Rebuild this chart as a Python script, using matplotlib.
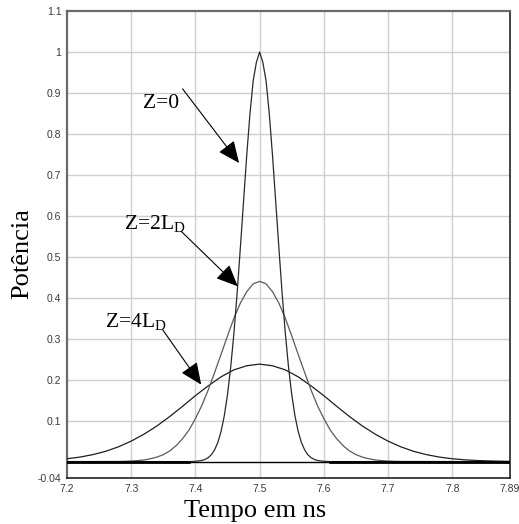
import matplotlib
matplotlib.use("Agg")
import matplotlib.pyplot as plt

# ---------------- data ----------------
t0 = [7.20, 7.39, 7.40, 7.41, 7.415, 7.42, 7.425, 7.43, 7.435, 7.44, 7.445, 7.45,
      7.455, 7.46, 7.465, 7.47, 7.475, 7.48, 7.485, 7.49, 7.495, 7.50, 7.505, 7.51,
      7.515, 7.52, 7.525, 7.53, 7.535, 7.54, 7.545, 7.55, 7.555, 7.56, 7.565, 7.57,
      7.575, 7.58, 7.585, 7.59, 7.60, 7.61, 7.89]
p0 = [0, 0, 0.0007, 0.0029, 0.0054, 0.0098, 0.017, 0.029, 0.047, 0.074, 0.112, 0.164,
      0.231, 0.314, 0.412, 0.522, 0.636, 0.749, 0.850, 0.930, 0.975, 1.0, 0.975, 0.930,
      0.850, 0.749, 0.636, 0.522, 0.412, 0.314, 0.231, 0.164, 0.112, 0.074, 0.047, 0.029,
      0.017, 0.0098, 0.0054, 0.0029, 0.0007, 0, 0]

t2 = [7.20, 7.28, 7.29, 7.30, 7.31, 7.32, 7.33, 7.34, 7.35, 7.36, 7.37, 7.38, 7.39,
      7.40, 7.41, 7.42, 7.43, 7.44, 7.45, 7.46, 7.47, 7.48, 7.49, 7.50, 7.51, 7.52,
      7.53, 7.54, 7.55, 7.56, 7.57, 7.58, 7.59, 7.60, 7.61, 7.62, 7.63, 7.64, 7.65,
      7.66, 7.67, 7.68, 7.69, 7.70, 7.71, 7.72, 7.89]
p2 = [0, 0.0003, 0.0007, 0.0014, 0.0025, 0.004, 0.007, 0.011, 0.017, 0.026, 0.039,
      0.056, 0.077, 0.105, 0.137, 0.175, 0.218, 0.262, 0.307, 0.350, 0.387, 0.415,
      0.434, 0.440, 0.434, 0.415, 0.387, 0.350, 0.307, 0.262, 0.218, 0.175, 0.137,
      0.105, 0.077, 0.056, 0.039, 0.026, 0.017, 0.011, 0.007, 0.004, 0.0025, 0.0014,
      0.0007, 0.0003, 0]

t4 = [7.20, 7.22, 7.24, 7.26, 7.28, 7.30, 7.32, 7.34, 7.36, 7.38, 7.40, 7.42, 7.44,
      7.46, 7.48, 7.50, 7.52, 7.54, 7.56, 7.58, 7.60, 7.62, 7.64, 7.66, 7.68, 7.70,
      7.72, 7.74, 7.76, 7.78, 7.80, 7.82, 7.84, 7.86, 7.88, 7.89]
p4 = [0.007, 0.011, 0.017, 0.025, 0.036, 0.050, 0.067, 0.087, 0.110, 0.135, 0.161,
      0.185, 0.207, 0.224, 0.234, 0.238, 0.234, 0.224, 0.207, 0.185, 0.161, 0.135,
      0.110, 0.087, 0.067, 0.050, 0.036, 0.025, 0.017, 0.011, 0.007, 0.0043, 0.0026,
      0.0015, 0.0008, 0.0006]

x_ticks = [7.2, 7.3, 7.4, 7.5, 7.6, 7.7, 7.8, 7.89]
x_tick_labels = ["7.2", "7.3", "7.4", "7.5", "7.6", "7.7", "7.8", "7.89"]
y_ticks = [-0.04, 0.1, 0.2, 0.3, 0.4, 0.5, 0.6, 0.7, 0.8, 0.9, 1.0, 1.1]
y_tick_labels = ["-0.04", "0.1", "0.2", "0.3", "0.4", "0.5", "0.6", "0.7", "0.8",
                 "0.9", "1", "1.1"]
y_grid = [0.1, 0.2, 0.3, 0.4, 0.5, 0.6, 0.7, 0.8, 0.9, 1.0]
x_grid = [7.3, 7.4, 7.5, 7.6, 7.7, 7.8]

labels = ["Z=0", r"Z=2L$_\mathrm{D}$", r"Z=4L$_\mathrm{D}$"]

# ---------------- figure ----------------
plt.rcParams["mathtext.fontset"] = "custom"
plt.rcParams["mathtext.rm"] = "Liberation Serif"
plt.rcParams["mathtext.it"] = "Liberation Serif:italic"

fig = plt.figure(figsize=(5.19, 5.24), dpi=100)
ax = fig.add_axes([0.1291, 0.0878, 0.8536, 0.8912])

ax.set_xlim(7.2, 7.89)
ax.set_ylim(-0.04, 1.1)

for g in y_grid:
    ax.axhline(g, color="#cfcfcf", lw=1.0, zorder=0)
for g in x_grid:
    ax.axvline(g, color="#cfcfcf", lw=1.0, zorder=0)

ax.axhline(0, color="black", lw=1.0, zorder=2)

ax.plot(t4, p4, color="#1e1e1e", lw=0.9, zorder=3)
ax.plot(t2, p2, color="#5a5a5a", lw=0.9, zorder=3)
ax.plot(t0, p0, color="#2a2a2a", lw=0.9, zorder=3)
# thicker baseline where the curves lie on zero
ax.plot([t0[0], t0[1]], [p0[0], p0[1]], color="black", lw=2.0, zorder=3)
ax.plot([t0[-2], t0[-1]], [p0[-2], p0[-1]], color="black", lw=2.0, zorder=3)

ax.set_xticks(x_ticks)
ax.set_xticklabels(x_tick_labels)
ax.set_yticks(y_ticks)
ax.set_yticklabels(y_tick_labels)
ax.tick_params(length=0, pad=4, labelsize=7.5, labelcolor="#3a3a3a")
for lab in ax.get_xticklabels() + ax.get_yticklabels():
    lab.set_fontfamily("Liberation Sans")

ax.spines["top"].set_color("#6a6a6a")
ax.spines["left"].set_color("#6a6a6a")
ax.spines["top"].set_linewidth(1.6)
ax.spines["left"].set_linewidth(1.6)
ax.spines["right"].set_color("#222222")
ax.spines["bottom"].set_color("#222222")
ax.spines["right"].set_linewidth(1.2)
ax.spines["bottom"].set_linewidth(1.2)

serif = "Liberation Serif"
ann_fs = 15.5

ax.text(7.3178, 0.863, labels[0], fontsize=ann_fs, family=serif, ha="left", va="baseline")
ax.text(7.2884, 0.568, labels[1], fontsize=ann_fs, family=serif, ha="left", va="baseline")
ax.text(7.2590, 0.329, labels[2], fontsize=ann_fs, family=serif, ha="left", va="baseline")

aprops = dict(arrowstyle="-|>,head_length=0.75,head_width=0.33", color="black",
              lw=0.8, shrinkA=0, shrinkB=0, mutation_scale=18)
ax.annotate("", xy=(7.468, 0.729), xytext=(7.380, 0.910), arrowprops=aprops)
ax.annotate("", xy=(7.466, 0.428), xytext=(7.378, 0.562), arrowprops=aprops)
ax.annotate("", xy=(7.409, 0.188), xytext=(7.349, 0.322), arrowprops=aprops)

fig.text(255.5 / 519, 1 - 516.5 / 524, "Tempo em ns", fontsize=19, family=serif,
         ha="center", va="baseline")
fig.text(33 / 519, 1 - 254 / 524, "Potência", fontsize=19, family=serif,
         ha="right", va="center", rotation=90)

fig.savefig("out.png", dpi=100)
